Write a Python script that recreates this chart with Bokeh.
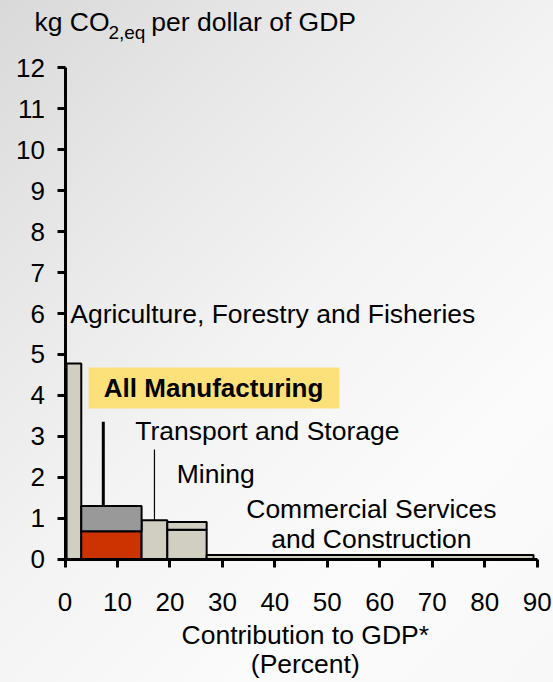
from bokeh.plotting import figure
from bokeh.models import Label, FixedTicker, Range1d
from bokeh.embed import file_html
from bokeh.resources import INLINE

# --- data -------------------------------------------------------------
sectors = ["Agriculture, Forestry and Fisheries", "All Manufacturing",
           "Transport and Storage", "Mining",
           "Commercial Services and Construction"]
gdp_start = 0.3                                   # first bar begins here (percent)
gdp_share = [2.8, 11.5, 4.9, 7.5, 62.3]           # contribution to GDP (percent)
intensity_lower = [4.78, 0.68, 0.95, 0.72, 0.10]  # kg CO2eq per dollar, lower block
intensity_upper = [0.0, 0.62, 0.0, 0.19, 0.0]     # kg CO2eq per dollar, upper block
mfg_range_x = 7.3                                 # position of manufacturing range line
mfg_range_high = 3.36                             # upper end of manufacturing range

y_ticks = list(range(0, 13))
x_ticks = list(range(0, 91, 10))

# --- colours ----------------------------------------------------------
LIGHT = "#d1cfc1"
GRAY = "#999999"
RED = "#cc3300"
YELLOW = "#fce07a"
FONT = "Liberation Sans"

# bar edges from cumulative shares
lefts, rights = [], []
edge = gdp_start
for s in gdp_share:
    lefts.append(edge)
    edge += s
    rights.append(round(edge, 3))

lower_colors = [LIGHT, RED, LIGHT, LIGHT, LIGHT]
upper_colors = [LIGHT, GRAY, LIGHT, LIGHT, LIGHT]
upper_tops = [lo + up for lo, up in zip(intensity_lower, intensity_upper)]

# The plotting frame fills the whole canvas; the axes are pinned at zero so
# that the titles around them can be placed freely as labels.
W, H = 553, 682
px_x = 472.2 / 90          # pixels per percent
px_y = 491.3 / 12          # pixels per kg
x0 = -64.5 / px_x
y1 = 12 + 67.4 / px_y

p = figure(width=W, height=H, output_backend="svg", toolbar_location=None,
           x_range=Range1d(x0, x0 + W / px_x), y_range=Range1d(y1 - H / px_y, y1),
           min_border=0)
p.title.visible = False
p.background_fill_color = None
p.border_fill_color = None
p.outline_line_color = None
p.xgrid.grid_line_color = None
p.ygrid.grid_line_color = None
p.styles = {"background": "linear-gradient(135deg, #d9d9d9 0%, #e6e6e6 22%, "
                          "#f3f3f3 48%, #fbfbfb 75%, #f8f8f8 100%)"}

# highlight box behind the manufacturing label
p.quad(left=[4.5], right=[52.3], bottom=[3.68], top=[4.68],
       fill_color=YELLOW, line_color=None)

# lower blocks
p.quad(left=lefts, right=rights, bottom=[0] * len(lefts), top=intensity_lower,
       fill_color=lower_colors, line_color="black", line_width=2)
# upper blocks (only where present)
idx = [i for i, v in enumerate(intensity_upper) if v > 0]
p.quad(left=[lefts[i] for i in idx], right=[rights[i] for i in idx],
       bottom=[intensity_lower[i] for i in idx], top=[upper_tops[i] for i in idx],
       fill_color=[upper_colors[i] for i in idx], line_color="black", line_width=2)

# manufacturing range line
p.segment(x0=[mfg_range_x], y0=[upper_tops[1]], x1=[mfg_range_x], y1=[mfg_range_high],
          line_color="black", line_width=3)
# leader from transport label to its bar
transport_mid = (lefts[2] + rights[2]) / 2
p.segment(x0=[transport_mid], y0=[intensity_lower[2]], x1=[transport_mid], y1=[2.68],
          line_color="black", line_width=1.2)

# axes pinned at the origin
for ax in (p.xaxis[0], p.yaxis[0]):
    ax.fixed_location = 0
    ax.axis_line_width = 3
    ax.axis_line_color = "black"
    ax.major_tick_line_width = 3
    ax.major_tick_line_color = "black"
    ax.major_tick_out = 8
    ax.major_tick_in = 0
    ax.minor_tick_line_color = None
    ax.major_label_text_font = FONT
    ax.major_label_text_font_size = "26px"
    ax.major_label_text_color = "black"
p.xaxis.bounds = (0, 90)
p.yaxis.bounds = (0, 12)
p.yaxis.ticker = FixedTicker(ticks=y_ticks)
p.xaxis.ticker = FixedTicker(ticks=x_ticks)
p.yaxis.major_label_standoff = 12
p.xaxis.major_label_standoff = 26


def label(x, y, text, size="26.5px", align="left", baseline="middle", bold=False):
    p.add_layout(Label(x=x, y=y, text=text, text_font=FONT, text_font_size=size,
                       text_align=align, text_baseline=baseline, text_color="black",
                       text_font_style="bold" if bold else "normal"))


# sector names
label(1.0, 6.0, sectors[0])
label(7.4, 4.18, sectors[1], size="26px", bold=True)
label(13.4, 3.14, sectors[2])
label(21.3, 2.07, sectors[3])
label(58.4, 1.23, "Commercial Services", align="center")
label(58.4, 0.50, "and Construction", align="center")

# y-axis title with subscript
label(-5.81, 13.11, "kg CO")
label(8.28, 12.86, "2,eq", size="19px")
label(16.45, 13.11, "per dollar of GDP")

# x-axis title
label(45.8, -1.84, "Contribution to GDP*", align="center")
label(45.8, -2.57, "(Percent)", align="center")

open("out.html", "w").write(file_html(p, INLINE))
